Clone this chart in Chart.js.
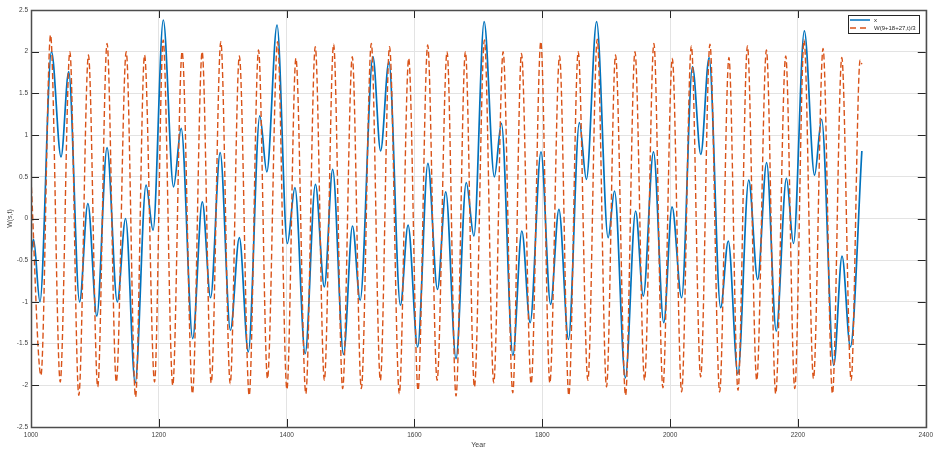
<!DOCTYPE html>
<html>
<head>
<meta charset="utf-8">
<script src="https://cdn.jsdelivr.net/npm/chart.js@4.4.1/dist/chart.umd.min.js"></script>
<style>
html,body{margin:0;padding:0;background:#fff;}
canvas{display:block;}
</style>
</head>
<body>
<canvas id="chart" width="937" height="451"></canvas>
<script>
// extrema, curve is smoothed by chart.js between them
const xYears=[1000,1004,1014,1032,1047,1059,1076,1089,1103,1119,1135,1148,1163,1180,1191,1207,1223,1235,
  1253,1268,1281,1296,1312,1326,1340,1358,1369,1385,1401,1413,1429,1445,1459,1472,
  1489,1503,1515,1535,1547,1560,1578,1590,1605,1621,1636,1649,1665,1681,1693,1709,
  1725,1736,1754,1768,1781,1798,1813,1826,1841,1858,1869,1885,1903,1913,1930,1946,
  1958,1974,1990,2003,2018,2035,2048,2061,2079,2091,2106,2123,2137,2151,2166,2182,
  2193,2210,2226,2237,2256,2269,2282,2300];
const xValues=[-0.42,-0.25,-1.0,2.0,0.74,1.76,-1.0,0.18,-1.17,0.85,-1.0,0.0,-1.97,0.4,-0.14,2.38,0.38,1.08,
  -1.44,0.2,-0.95,0.79,-1.34,-0.23,-1.6,1.23,0.56,2.32,-0.3,0.37,-1.62,0.41,-0.82,0.59,
  -1.63,-0.09,-0.98,1.94,0.81,1.88,-1.04,-0.08,-1.54,0.66,-0.85,0.32,-1.68,0.43,-0.21,2.36,
  0.5,1.14,-1.64,-0.15,-1.25,0.8,-1.03,0.11,-1.45,1.15,0.47,2.36,-0.23,0.33,-1.91,0.09,
  -0.93,0.8,-1.25,0.14,-0.95,1.82,0.77,1.93,-1.07,-0.27,-1.86,0.46,-0.73,0.67,-1.35,0.48,
  -0.3,2.25,0.52,1.19,-1.76,-0.45,-1.54,0.81];

const wYears=[1000,1015.6,1030.6,1045.7,1060.8,1074.8,1089.9,1104.4,1119,1133.5,1149,1163.6,1177.7,1193.3,
  1206.8,1221.8,1236.4,1252.7,1267.8,1282,1297,1311.7,1326,1341.4,1356,1370,1385.8,1400.4,
  1414.5,1430,1444.8,1459,1473.5,1487.6,1502.7,1516.8,1532.5,1546.6,1561,1576.3,1591,1605.6,
  1620.7,1635.4,1651,1665,1679.7,1693.8,1709.5,1724,1738.7,1753.8,1767.4,1782.6,1797.7,1811.8,
  1827,1841.5,1856.2,1871.3,1886,1900.5,1914.6,1930.3,1945,1960,1974.6,1988.7,2003.4,2018,
  2033.2,2047.8,2062.3,2077.5,2092,2106.2,2121,2135.5,2150.7,2165.2,2180.9,2195,2209.6,2224.3,
  2239.3,2254,2268.6,2283.2,2297.3,2300];
const wValues=[0.48,-1.88,2.2,-1.96,2.0,-2.12,1.96,-2.02,2.1,-1.96,2.0,-2.14,1.96,-1.96,
  2.14,-2.0,2.0,-2.1,2.0,-1.97,2.12,-1.98,1.95,-2.12,2.02,-1.92,2.12,-2.05,
  1.92,-2.1,2.06,-1.94,2.09,-2.04,1.94,-2.04,2.1,-1.94,2.06,-2.1,1.92,-2.06,
  2.08,-1.94,2.0,-2.13,2.0,-2.02,2.14,-1.97,2.0,-2.09,1.98,-1.98,2.12,-1.97,
  1.95,-2.12,2.0,-1.94,2.15,-2.02,1.96,-2.12,2.0,-1.94,2.1,-2.03,1.92,-2.08,
  2.07,-1.9,2.09,-2.08,1.93,-2.06,2.07,-1.94,2.02,-2.1,1.95,-2.04,2.14,-1.92,
  2.04,-2.1,1.93,-1.94,1.9,1.85];

const xTicks=[1000,1200,1400,1600,1800,2000,2200,2400];
const yTicks=[-2.5,-2,-1.5,-1,-0.5,0,0.5,1,1.5,2,2.5];
const seriesNames=['x','W(9+18+27,t)/3'];

const BLUE='#0072BD',ORANGE='#D95319',AXIS='#262626',FONT='"Liberation Sans", Arial, sans-serif';
const TICK=8;

function pts(xs,ys){return xs.map((v,i)=>({x:v,y:ys[i]}));}

// matlab look: box, inward ticks on all four sides, legend inside top right
const boxPlugin={
  id:'matlabBox',
  afterDraw(chart){
    const ctx=chart.ctx,a=chart.chartArea,sx=chart.scales.x,sy=chart.scales.y;
    ctx.save();
    ctx.strokeStyle=AXIS;ctx.lineWidth=1;
    ctx.beginPath();
    xTicks.forEach(v=>{
      const p=Math.round(sx.getPixelForValue(v))+0.5;
      ctx.moveTo(p,a.bottom);ctx.lineTo(p,a.bottom-TICK);
      ctx.moveTo(p,a.top);ctx.lineTo(p,a.top+TICK);
    });
    yTicks.forEach(v=>{
      const p=Math.round(sy.getPixelForValue(v))+0.5;
      ctx.moveTo(a.left,p);ctx.lineTo(a.left+TICK,p);
      ctx.moveTo(a.right,p);ctx.lineTo(a.right-TICK,p);
    });
    ctx.stroke();
    ctx.strokeStyle='#4d4d4d';ctx.lineWidth=1.5;
    ctx.strokeRect(Math.round(a.left)+0.5,Math.round(a.top)+0.5,Math.round(a.width),Math.round(a.height));

    // legend
    const lx=848,ly=15,lw=71,lh=18;
    ctx.fillStyle='#fff';ctx.fillRect(lx,ly,lw,lh);
    ctx.strokeStyle=AXIS;ctx.lineWidth=1;
    ctx.strokeRect(lx+0.5,ly+0.5,lw,lh);
    const rows=[ly+5,ly+13];
    ctx.lineWidth=1.5;
    ctx.strokeStyle=BLUE;ctx.setLineDash([]);
    ctx.beginPath();ctx.moveTo(lx+2,rows[0]);ctx.lineTo(lx+22,rows[0]);ctx.stroke();
    ctx.strokeStyle=ORANGE;ctx.setLineDash([6,4]);
    ctx.beginPath();ctx.moveTo(lx+2,rows[1]);ctx.lineTo(lx+22,rows[1]);ctx.stroke();
    ctx.setLineDash([]);
    ctx.fillStyle=AXIS;ctx.font='6px '+FONT;ctx.textBaseline='middle';ctx.textAlign='left';
    ctx.fillText(seriesNames[0],lx+26,rows[0]);
    ctx.fillText(seriesNames[1],lx+26,rows[1]);
    ctx.restore();
  }
};

new Chart(document.getElementById('chart'),{
  type:'line',
  data:{datasets:[
    {label:seriesNames[0],data:pts(xYears,xValues),borderColor:BLUE,borderWidth:1.7,
     pointRadius:0,cubicInterpolationMode:'monotone',fill:false,order:1},
    {label:seriesNames[1],data:pts(wYears,wValues),borderColor:ORANGE,borderWidth:1.4,borderDash:[6,3],
     pointRadius:0,cubicInterpolationMode:'monotone',fill:false,order:0}
  ]},
  options:{
    responsive:false,animation:false,devicePixelRatio:1,
    layout:{padding:{left:0,top:10,right:11,bottom:0}},
    plugins:{legend:{display:false},tooltip:{enabled:false}},
    scales:{
      x:{type:'linear',min:1000,max:2400,
        afterBuildTicks:s=>{s.ticks=xTicks.map(v=>({value:v}));},
        afterFit:s=>{s.height=24;},
        ticks:{callback:v=>String(v),font:{size:6.5,family:FONT},color:'#404040',padding:4,maxRotation:0},
        grid:{color:'#e3e3e3',drawTicks:false},border:{display:false},
        title:{display:true,text:'Year',font:{size:7,family:FONT},color:'#404040',padding:{top:0,bottom:2}}},
      y:{min:-2.5,max:2.5,
        afterBuildTicks:s=>{s.ticks=yTicks.map(v=>({value:v}));},
        afterFit:s=>{s.width=31;},
        ticks:{callback:v=>String(v),font:{size:6.5,family:FONT},color:'#404040',padding:3},
        grid:{color:'#e3e3e3',drawTicks:false},border:{display:false},
        title:{display:true,text:'W(s,t)',font:{size:7,family:FONT},color:'#404040',padding:{top:6,bottom:0}}}
    }
  },
  plugins:[boxPlugin]
});
</script>
</body>
</html>
